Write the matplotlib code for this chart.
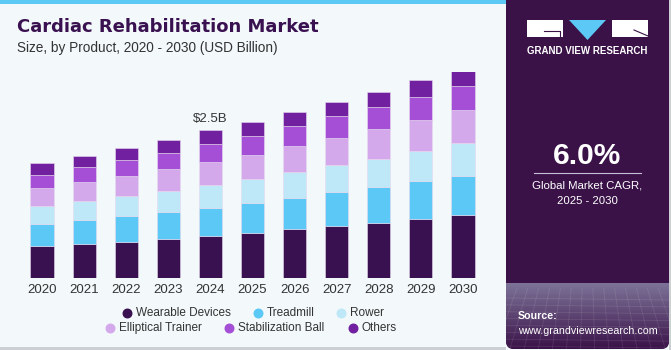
import matplotlib
matplotlib.use("Agg")
import matplotlib.pyplot as plt
import numpy as np
from matplotlib.patches import Rectangle, Polygon, FancyBboxPatch

plt.rcParams['font.family'] = ['Liberation Sans', 'DejaVu Sans']

# data (USD Billion)
years = ['2020', '2021', '2022', '2023', '2024', '2025', '2026', '2027', '2028', '2029', '2030']
segments = ['Wearable Devices', 'Treadmill', 'Rower', 'Elliptical Trainer', 'Stabilization Ball', 'Others']
wearable = [0.55, 0.59, 0.62, 0.67, 0.72, 0.77, 0.83, 0.88, 0.94, 1.00, 1.07]
treadmill = [0.37, 0.40, 0.43, 0.45, 0.48, 0.51, 0.54, 0.58, 0.61, 0.65, 0.67]
rower = [0.31, 0.32, 0.35, 0.37, 0.39, 0.41, 0.43, 0.46, 0.48, 0.51, 0.56]
elliptical = [0.30, 0.32, 0.34, 0.36, 0.39, 0.41, 0.45, 0.47, 0.50, 0.53, 0.56]
stab_ball = [0.23, 0.26, 0.27, 0.28, 0.30, 0.32, 0.33, 0.36, 0.38, 0.39, 0.41]
others = [0.19, 0.19, 0.20, 0.22, 0.23, 0.23, 0.24, 0.25, 0.26, 0.28, 0.29]
series = [wearable, treadmill, rower, elliptical, stab_ball, others]
colors = ['#3A1150', '#5BC8F5', '#BEE8F8', '#D4A9EC', '#A54FD6', '#7120A0']

W, H = 671, 350
fig = plt.figure(figsize=(W / 100, H / 100), dpi=100)
fig.patch.set_facecolor('#F3F8FB')

# overlay in pixel coords for decorations
deco = fig.add_axes([0, 0, 1, 1])
deco.set_xlim(0, W)
deco.set_ylim(H, 0)
deco.axis('off')

# top cyan strip and bottom line
deco.add_patch(Rectangle((0, 0), 506, 4, color='#5BC8F5', lw=0))
deco.add_patch(Rectangle((0, 347), 506, 3, color='#CCCFD3', lw=0))
deco.add_patch(Rectangle((669, 0), 2, 350, color='#CCCFD3', lw=0))

# right panel with gradient at the bottom
panel = FancyBboxPatch((506, -10), 163, 359, boxstyle='round,pad=0,rounding_size=8',
                       fc='#3A1248', ec='none')
deco.add_patch(panel)
grad = np.linspace(0, 1, 100)[:, None]
cmap = matplotlib.colors.LinearSegmentedColormap.from_list('g', ['#3A1248', '#7D7398'])
img = deco.imshow(grad, extent=(506, 669, 283, 349), cmap=cmap, aspect='auto', zorder=1)
img.set_clip_path(panel)
# faint grid texture
for yy in np.linspace(298, 346, 8):
    deco.plot([506, 669], [yy, yy + 2], color='white', alpha=0.10, lw=0.6, zorder=2)
for xx in np.linspace(506, 669, 16):
    deco.plot([xx, xx + (xx - 587) * 0.3], [288, 349], color='white', alpha=0.10, lw=0.6, zorder=2,
              clip_path=panel)

# logo
deco.add_patch(Rectangle((527, 20), 36, 17, color='white', lw=0, zorder=3))
deco.plot([544, 560, 560], [31, 31, 37], color='#3A1248', lw=0.8, zorder=4)
deco.add_patch(Polygon([[569, 20], [606, 20], [587.5, 40]], color='#5BC8F5', lw=0, zorder=3))
deco.add_patch(Rectangle((612, 20), 36, 17, color='white', lw=0, zorder=3))
deco.plot([634, 648], [30, 36], color='#3A1248', lw=0.8, zorder=4)
deco.text(587.5, 51, 'GRAND VIEW RESEARCH', color='white', fontsize=7, fontweight='bold',
          ha='center', va='center', zorder=4)

# CAGR
deco.text(587.5, 156, '6.0%', color='white', fontsize=21.5, fontweight='bold', ha='center', va='center')
deco.plot([534, 641], [173, 173], color='#C9C0D6', lw=0.8)
deco.text(587.5, 186, 'Global Market CAGR,', color='white', fontsize=8.2, ha='center', va='center')
deco.text(587.5, 201, '2025 - 2030', color='white', fontsize=8.2, ha='center', va='center')
deco.text(518, 316, 'Source:', color='white', fontsize=7.7, fontweight='bold', ha='left', va='center', zorder=4)
deco.text(518, 331, 'www.grandviewresearch.com', color='white', fontsize=7.7, ha='left', va='center', zorder=4)

# titles
deco.text(17, 27, 'Cardiac Rehabilitation Market', color='#3A1150', fontsize=13, fontweight='bold',
          family='DejaVu Sans', ha='left', va='center')
deco.text(17, 48, 'Size, by Product, 2020 - 2030 (USD Billion)', color='#333333', fontsize=9.8,
          ha='left', va='center')

# bar chart
base_px = 278.3
px_per_b = 58.9
ymax = 3.5
ax_h = ymax * px_per_b
ax = fig.add_axes([21 / W, (H - base_px) / H, 463 / W, ax_h / H])
ax.set_facecolor('none')
x = np.arange(len(years))
bottom = np.zeros(len(years))
for vals, c, name in zip(series, colors, segments):
    ax.bar(x, vals, width=0.55, bottom=bottom, color=c, edgecolor='#E6D9EE', linewidth=0.4, label=name)
    bottom += np.array(vals)
ax.set_xlim(-0.5, len(years) - 0.5)
ax.set_ylim(0, ymax)
ax.set_xticks(x)
ax.set_xticklabels(years, fontsize=9.5, color='#333333')
ax.tick_params(axis='x', length=0, pad=4)
ax.set_yticks([])
for s in ax.spines.values():
    s.set_visible(False)
ax.text(4, bottom[4] + 0.1, r'\$2.5B', ha='center', va='bottom', fontsize=9.5, color='#333333')

# legend drawn by hand (two centred rows)
legend_items = [(126.7, 312.7, 0), (257.7, 312.7, 1), (341, 312.7, 2),
                (110, 328.3, 3), (229, 328.3, 4), (353, 328.3, 5)]
for lx, ly, i in legend_items:
    deco.scatter([lx], [ly], s=38, color=colors[i], zorder=5)
    deco.text(lx + 9, ly, segments[i], fontsize=8.5, color='#333333', ha='left', va='center')

fig.savefig('out.png', dpi=100, facecolor=fig.get_facecolor())
